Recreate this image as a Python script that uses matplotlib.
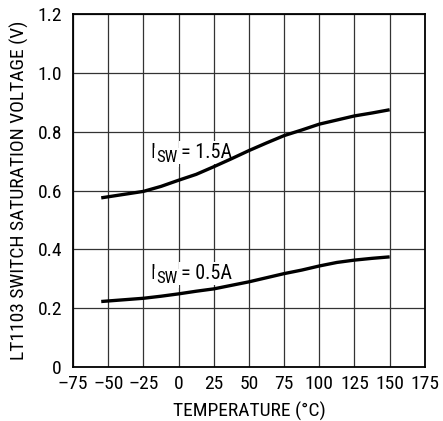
import matplotlib
matplotlib.use("Agg")
import matplotlib.pyplot as plt
from matplotlib import font_manager, transforms

names = {f.name for f in font_manager.fontManager.ttflist}
prefs = ["Liberation Sans Narrow", "Roboto Condensed", "Archivo Narrow", "Arimo", "Liberation Sans"]
fam = [f for f in prefs if f in names][:1] + ["DejaVu Sans"]
plt.rcParams["font.family"] = fam

temps = [-55, -25, -12.5, 0, 12.5, 25, 37.5, 50, 62.5, 75, 87.5, 100, 112.5, 125, 137.5, 150]
vsat_15a = [0.575, 0.597, 0.614, 0.635, 0.655, 0.681, 0.708, 0.736, 0.762, 0.787,
            0.806, 0.826, 0.840, 0.854, 0.864, 0.875]
vsat_05a = [0.222, 0.233, 0.240, 0.248, 0.257, 0.265, 0.277, 0.289, 0.303, 0.317,
            0.329, 0.343, 0.355, 0.363, 0.369, 0.374]
xticks = [-75, -50, -25, 0, 25, 50, 75, 100, 125, 150, 175]
xtick_labels = ["\u201375", "\u201350", "\u201325", "0", "25", "50", "75", "100", "125", "150", "175"]
yticks = [0, 0.2, 0.4, 0.6, 0.8, 1.0, 1.2]
ytick_labels = ["0", "0.2", "0.4", "0.6", "0.8", "1.0", "1.2"]
curve_labels = [("= 1.5A", -20.3, 0.710), ("= 0.5A", -20.3, 0.297)]

fig = plt.figure(figsize=(4.43, 4.21), dpi=100)
ax = fig.add_axes([0.165, 0.129, 0.794, 0.837])

ax.plot(temps, vsat_15a, color="black", lw=2.4, solid_capstyle="butt", zorder=3)
ax.plot(temps, vsat_05a, color="black", lw=2.4, solid_capstyle="butt", zorder=3)

ax.set_xlim(-75, 175)
ax.set_ylim(0, 1.2)
ax.set_xticks(xticks)
ax.set_xticklabels(xtick_labels)
ax.set_yticks(yticks)
ax.set_yticklabels(ytick_labels)
ax.tick_params(axis="y", length=0, labelsize=14, pad=8)
ax.tick_params(axis="x", length=0, labelsize=14, pad=6)
ax.grid(True, color="#333333", lw=0.9)
ax.set_axisbelow(True)
for s in ax.spines.values():
    s.set_linewidth(1.3)

ax.set_xlabel("TEMPERATURE (\u00b0C)", fontsize=14, labelpad=6)
ax.set_ylabel("LT1103 SWITCH SATURATION VOLTAGE (V)", fontsize=14, labelpad=6)

renderer = fig.canvas.get_renderer()
bbox = dict(facecolor="white", edgecolor="none", pad=1.5)
for rest, x, y in curve_labels:
    t1 = ax.text(x, y, "I", fontsize=14.5, va="baseline", ha="left", bbox=bbox, zorder=2.5)
    w1 = t1.get_window_extent(renderer).width
    tr2 = transforms.offset_copy(ax.transData, fig, x=w1 + 1, y=-3.5, units="dots")
    t2 = ax.text(x, y, "SW", fontsize=12, va="baseline", ha="left", transform=tr2, bbox=bbox, zorder=2.5)
    w2 = t2.get_window_extent(renderer).width
    tr3 = transforms.offset_copy(ax.transData, fig, x=w1 + w2 + 5, y=0, units="dots")
    ax.text(x, y, rest, fontsize=14.5, va="baseline", ha="left", transform=tr3, bbox=bbox, zorder=2.5)

fig.savefig("out.png", dpi=100)
